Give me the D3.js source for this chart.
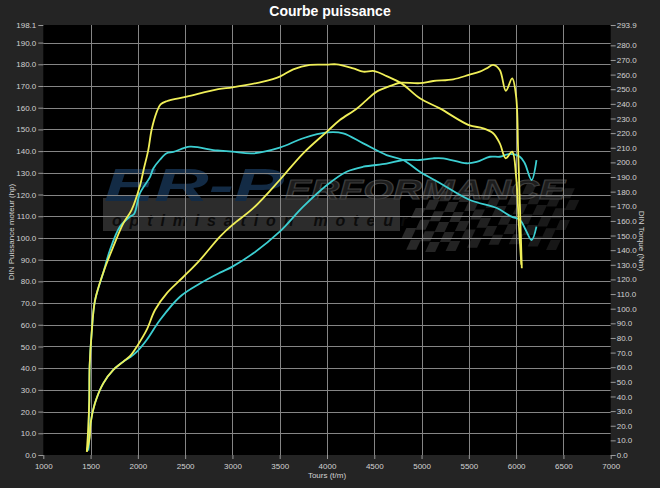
<!DOCTYPE html>
<html>
<head>
<meta charset="utf-8">
<script src="https://cdn.jsdelivr.net/npm/d3@7"></script>
<style>
  html, body { margin: 0; padding: 0; background: #242424; }
  svg { display: block; }
  text { font-family: "Liberation Sans", Arial, sans-serif; }
</style>
</head>
<body>
<svg id="chart" width="660" height="488"></svg>
<script>
// ---------- data ----------
const title = "Courbe puissance";
const xTitle = "Tours (t/m)";
const yLeftTitle = "DIN Puissance moteur (hp)";
const yRightTitle = "DIN Torque (Nm)";

const rpmTicks = [1000, 1500, 2000, 2500, 3000, 3500, 4000, 4500, 5000, 5500, 6000, 6500, 7000];
const hpTicks = [0, 10, 20, 30, 40, 50, 60, 70, 80, 90, 100, 110, 120, 130, 140, 150, 160, 170, 180, 190, 198.1];
const nmTicks = [0, 10, 20, 30, 40, 50, 60, 70, 80, 90, 100, 110, 120, 130, 140, 150, 160, 170, 180, 190, 200,
                 210, 220, 230, 240, 250, 260, 270, 280, 293.9];

// [rpm, hp]
const yellowPower = [
  [1460, 1.5], [1490, 8], [1500, 14.6], [1546, 23.8], [1634, 33], [1740, 39.2], [1846, 43], [1916, 45.5],
  [2000, 50.7], [2093, 57.6], [2181, 66.8], [2307, 74.6], [2480, 82], [2656, 89.8], [2868, 100.6],
  [3000, 106], [3220, 113.7], [3500, 126.7], [3748, 139], [4000, 149], [4136, 154.3], [4313, 159.5],
  [4418, 163.5], [4525, 167.4], [4700, 170.5], [4771, 171.5], [4982, 171.3], [5123, 172.3], [5335, 173.1],
  [5500, 175.1], [5616, 176.6], [5687, 178.1], [5757, 179.7], [5827, 177.4], [5891, 167.8], [5958, 173.5],
  [6000, 165.1], [6021, 140.5], [6040, 115], [6060, 86]
];
// [rpm, Nm]
const yellowTorque = [
  [1460, 2.2], [1476, 19.3], [1486, 37.1], [1490, 60.8], [1511, 83.1], [1546, 105.3], [1634, 124.6],
  [1740, 142.4], [1846, 158.3], [1934, 167.5], [2022, 184.0], [2064, 195.8], [2110, 208.4], [2146, 222.5],
  [2199, 234.4], [2240, 239.6], [2304, 241.8], [2516, 244.9], [2850, 250.0], [3000, 251.3], [3325, 255.2],
  [3500, 258.6], [3643, 263.6], [3820, 266.6], [4000, 266.8], [4101, 267.0], [4277, 264.2], [4383, 262.0],
  [4500, 262.4], [4630, 259.0], [4788, 254.0], [4982, 243.8], [5193, 236.9], [5500, 225.5], [5651, 223.3],
  [5757, 219.9], [5827, 213.0], [5891, 202.8], [5958, 207.3], [6000, 190], [6030, 156], [6055, 130]
];
// [rpm, hp]
const cyanPower = [
  [1476, 2], [1490, 10], [1500, 14.6], [1546, 23.8], [1634, 33], [1740, 39.2], [1846, 43], [1916, 45],
  [1987, 47.5], [2093, 53], [2234, 62.2], [2445, 72.9], [2656, 79], [2868, 84], [3000, 86.8], [3220, 92.9],
  [3500, 102.9], [3748, 114.4], [4000, 124.4], [4207, 130.5], [4383, 132.8], [4630, 134.2], [4805, 135.9],
  [4982, 135.9], [5123, 136.7], [5228, 136.7], [5475, 134.4], [5581, 135], [5722, 137.4], [5827, 137.4],
  [5933, 138.7], [6040, 137.4], [6090, 134.5], [6163, 126.7], [6215, 135.9]
];
// [rpm, Nm]
const cyanTorque = [
  [1476, 4.5], [1480, 22.3], [1486, 37.1], [1490, 60.8], [1511, 83.1], [1546, 105.3], [1634, 124.6],
  [1705, 140.1], [1811, 156.1], [1916, 162.9], [1960, 164.7], [2022, 178.9], [2128, 189.9], [2163, 195.8],
  [2233, 201.8], [2304, 206.2], [2375, 207.1], [2550, 210.7], [2797, 208.4], [2868, 208.0], [3000, 207.3],
  [3220, 206.2], [3500, 210.1], [3748, 216.5], [4000, 220.5], [4171, 219.9], [4383, 213.0], [4630, 205.0],
  [4805, 201.6], [4982, 193.6], [5193, 185.9], [5511, 174.3], [5796, 168.8], [5951, 162.9], [6040, 160.7],
  [6100, 154], [6163, 146.9], [6215, 156.1]
];

const yellow = "#f0ef58";
const cyan = "#3ccfd2";

// ---------- layout ----------
const svg = d3.select("#chart");
const W = 660, H = 488;
const pLeft = 43.3, pRight = 610.7, pTop = 25, pBottom = 455;

const x = d3.scaleLinear().domain([1000, 7000]).range([pLeft, pRight]);
const yL = d3.scaleLinear().domain([0, 198.1]).range([pBottom, pTop]);
const yR = d3.scaleLinear().domain([0, 293.9]).range([pBottom, pTop]);

svg.append("rect").attr("width", W).attr("height", H).attr("fill", "#242424");
svg.append("rect").attr("x", pLeft).attr("y", pTop).attr("width", pRight - pLeft).attr("height", pBottom - pTop)
  .attr("fill", "#000");

// ---------- watermark ----------
const wm = svg.append("g").attr("class", "watermark");
const flag = wm.append("g").attr("transform", "translate(395,188) skewX(-25)");
const cs = 10;
d3.range(0, 6).forEach(r => {
  d3.range(0, 16).forEach(c => {
    if ((r + c) % 2 === 0) {
      const wave = Math.sin(c / 2.2) * 4;
      flag.append("rect")
        .attr("x", 30 + c * cs).attr("y", r * cs + wave)
        .attr("width", cs).attr("height", cs)
        .attr("fill", "#292929").attr("opacity", 1 - c * 0.03);
    }
  });
});
wm.append("rect").attr("x", 103).attr("y", 198).attr("width", 297).attr("height", 33).attr("fill", "#2c2c2c");
wm.append("text").attr("x", 112).attr("y", 226)
  .attr("textLength", 295).attr("lengthAdjust", "spacing")
  .attr("font-size", 16).attr("font-style", "italic").attr("font-weight", "bold")
  .attr("fill", "#0c0c0c").text("optimisation moteur");
wm.append("text").attr("x", 104).attr("y", 201)
  .attr("textLength", 180).attr("lengthAdjust", "spacingAndGlyphs")
  .attr("font-size", 46).attr("font-style", "italic").attr("font-weight", "bold")
  .attr("fill", "#132b45").text("ER-P");
wm.append("text").attr("x", 285).attr("y", 199)
  .attr("textLength", 280).attr("lengthAdjust", "spacingAndGlyphs")
  .attr("font-size", 28).attr("font-style", "italic").attr("font-weight", "bold")
  .attr("fill", "#1c1c1c").attr("stroke", "#3e3e3e").attr("stroke-width", 1).text("ERFORMANCE");

// ---------- grid ----------
const grid = svg.append("g").attr("stroke", "#858585").attr("stroke-width", 1);
grid.selectAll("line.v").data(rpmTicks.filter(d => d > 1000 && d < 7000)).join("line")
  .attr("x1", d => Math.round(x(d)) + 0.5).attr("x2", d => Math.round(x(d)) + 0.5)
  .attr("y1", pTop).attr("y2", pBottom);
grid.selectAll("line.h").data(hpTicks.filter(d => d > 0 && d < 198)).join("line")
  .attr("y1", d => Math.round(yL(d)) + 0.5).attr("y2", d => Math.round(yL(d)) + 0.5)
  .attr("x1", pLeft).attr("x2", pRight);

// ---------- curves ----------
const curveType = d3.curveCatmullRom.alpha(0.5);
const lineL = d3.line().x(d => x(d[0])).y(d => yL(d[1])).curve(curveType);
const lineR = d3.line().x(d => x(d[0])).y(d => yR(d[1])).curve(curveType);
const curves = svg.append("g").attr("fill", "none").attr("stroke-width", 1.8).attr("stroke-linejoin", "round");
curves.append("path").attr("d", lineL(cyanPower)).attr("stroke", cyan);
curves.append("path").attr("d", lineR(cyanTorque)).attr("stroke", cyan);
curves.append("path").attr("d", lineL(yellowPower)).attr("stroke", yellow);
curves.append("path").attr("d", lineR(yellowTorque)).attr("stroke", yellow);

// ---------- axes ----------
function styleAxis(g) {
  g.select(".domain").remove();
  g.selectAll(".tick line").attr("stroke", "#9a9a9a");
  g.selectAll(".tick text").attr("fill", "#d2d2d2").attr("font-size", 8)
    .attr("font-family", "'Liberation Sans', Arial, sans-serif");
}
svg.append("g").attr("transform", `translate(${pLeft},0)`)
  .call(d3.axisLeft(yL).tickValues(hpTicks).tickFormat(d3.format(".1f")).tickSize(5).tickPadding(2))
  .call(styleAxis);
svg.append("g").attr("transform", `translate(${pRight},0)`)
  .call(d3.axisRight(yR).tickValues(nmTicks).tickFormat(d3.format(".1f")).tickSize(5).tickPadding(1))
  .call(styleAxis);
svg.append("g").attr("transform", `translate(0,${pBottom})`)
  .call(d3.axisBottom(x).tickValues(rpmTicks).tickFormat(d3.format("d")).tickSize(4).tickPadding(4))
  .call(styleAxis);

// ---------- titles ----------
svg.append("text").attr("x", 330).attr("y", 15.5).attr("text-anchor", "middle")
  .attr("font-size", 14).attr("font-weight", "bold").attr("fill", "#fff").text(title);
svg.append("text").attr("x", 327).attr("y", 478).attr("text-anchor", "middle")
  .attr("font-size", 8).attr("fill", "#d2d2d2").text(xTitle);
svg.append("text").attr("transform", "translate(14,232) rotate(-90)").attr("text-anchor", "middle")
  .attr("font-size", 8).attr("fill", "#d2d2d2").text(yLeftTitle);
svg.append("text").attr("transform", "translate(639,241) rotate(90)").attr("text-anchor", "middle")
  .attr("font-size", 8).attr("fill", "#d2d2d2").text(yRightTitle);
</script>
</body>
</html>
